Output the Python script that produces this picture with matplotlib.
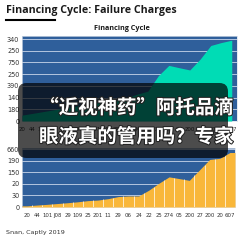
import matplotlib
matplotlib.use("Agg")
import matplotlib.pyplot as plt
import matplotlib.patheffects as pe
from matplotlib.patches import FancyBboxPatch
import numpy as np

W = H = 243

x_labels = ["20", "44", "101", "J08", "29", "109", "25", "201", "11", "29", "06",
            "24", "22", "25", "274", "05", "200", "27", "200", "20", "607"]

# top chart (teal area), value in tick steps
top_values = [0.5, 0.65, 0.8, 0.95, 1.1, 1.24, 1.39, 1.54, 1.69, 1.84, 1.99,
              2.3, 2.55, 3.87, 4.75, 4.55, 4.36, 5.3, 6.45, 6.7, 6.9]
top_ticks = ["0", "180", "140", "390", "250", "750", "250", "340"]

# bottom chart (orange area/bars), value in tick steps
bottom_values = [0.1, 0.17, 0.23, 0.3, 0.37, 0.45, 0.55, 0.6, 0.72, 0.9, 0.95,
                 0.95, 1.45, 2.05, 2.6, 2.45, 2.3, 3.2, 4.1, 4.2, 4.7]
bottom_ticks = ["0", "30", "20", "150", "190", "660"]

caption = ["\u201c近视神药\u201d阿托品滴", "眼液真的管用吗？专家"]

BLUE = "#2f5f9b"
TEAL = "#00dcb5"
ORANGE = "#f9b73a"


def box(left, top, right, bottom):
    return [left / W, 1 - bottom / H, (right - left) / W, (bottom - top) / H]


fig = plt.figure(figsize=(2.43, 2.43), dpi=100)
fig.patch.set_facecolor("white")

fig.text(6 / W, 1 - 11 / H, "Financing Cycle: Failure Charges", fontsize=7.7,
         fontweight="bold", family="Open Sans", color="#1a1a1a", va="center")
fig.add_artist(plt.Line2D([6 / W, 55 / W], [1 - 20 / H, 1 - 20 / H], color="black", lw=1.5))
fig.text(122 / W, 1 - 29 / H, "Financing Cycle", fontsize=5.2, fontweight="bold",
         family="Open Sans", color="#1a1a1a", ha="center", va="center")

# top chart
ax1 = fig.add_axes(box(22, 36, 237, 121))
n = len(top_values)
xs = np.arange(n)
ax1.set_facecolor(BLUE)
ax1.fill_between(xs, top_values, color=TEAL, lw=0, zorder=3)
ax1.set_xlim(0, n - 0.5)
ax1.set_ylim(0, 7.26)
ax1.set_yticks(range(len(top_ticks)))
ax1.set_yticklabels(top_ticks)
ax1.set_xticks(xs)
ax1.set_xticklabels(x_labels)
ax1.grid(axis="y", color="#c9d6ea", lw=0.6, zorder=1)

# bottom chart
ax2 = fig.add_axes(box(22, 148, 235, 207))
m = len(bottom_values)
xb = np.arange(m)
ax2.set_facecolor(BLUE)
xe = np.concatenate([[-0.5], xb, [m - 0.5]])
ye = np.concatenate([[bottom_values[0]], bottom_values, [bottom_values[-1]]])
ax2.fill_between(xe, ye, color=ORANGE, lw=0, zorder=3)
edges = np.arange(m - 1) + 0.5
ax2.vlines(edges, 0, np.interp(edges, xb, bottom_values), color="white", lw=0.5, zorder=4)
ax2.set_xlim(-0.5, m - 0.5)
ax2.set_ylim(0, 5.09)
ax2.set_yticks(range(len(bottom_ticks)))
ax2.set_yticklabels(bottom_ticks)
ax2.set_xticks(xb)
ax2.set_xticklabels(x_labels)
ax2.grid(axis="y", color="#c9d6ea", lw=0.6, zorder=1)

for ax in (ax1, ax2):
    ax.tick_params(length=0, pad=2, labelsize=4.7, colors="#333333")
    ax.tick_params(axis="x", pad=4.5, labelsize=3.9)
    for s in ax.spines.values():
        s.set_color("#d8e0ea")
        s.set_linewidth(0.5)

fig.text(6 / W, 1 - 232 / H, "Snan, Captly 2019", fontsize=4.6, color="#333333", va="center")

# overlay caption box
fig.add_artist(FancyBboxPatch((18 / W, 1 - 158 / H), 210 / W, 75 / H,
                              boxstyle="round,pad=0,rounding_size=0.035",
                              transform=fig.transFigure, facecolor="black",
                              edgecolor="none", alpha=0.7, zorder=10))
for txt, yy in zip(caption, [108, 137]):
    fig.text(234 / W, 1 - yy / H, txt, fontsize=14, fontweight="bold",
             family=["Noto Sans CJK SC", "DejaVu Sans"], color="white",
             ha="right", va="center", zorder=11,
             path_effects=[pe.withStroke(linewidth=1.5, foreground="#222222")])

fig.savefig("out.png", dpi=100)
